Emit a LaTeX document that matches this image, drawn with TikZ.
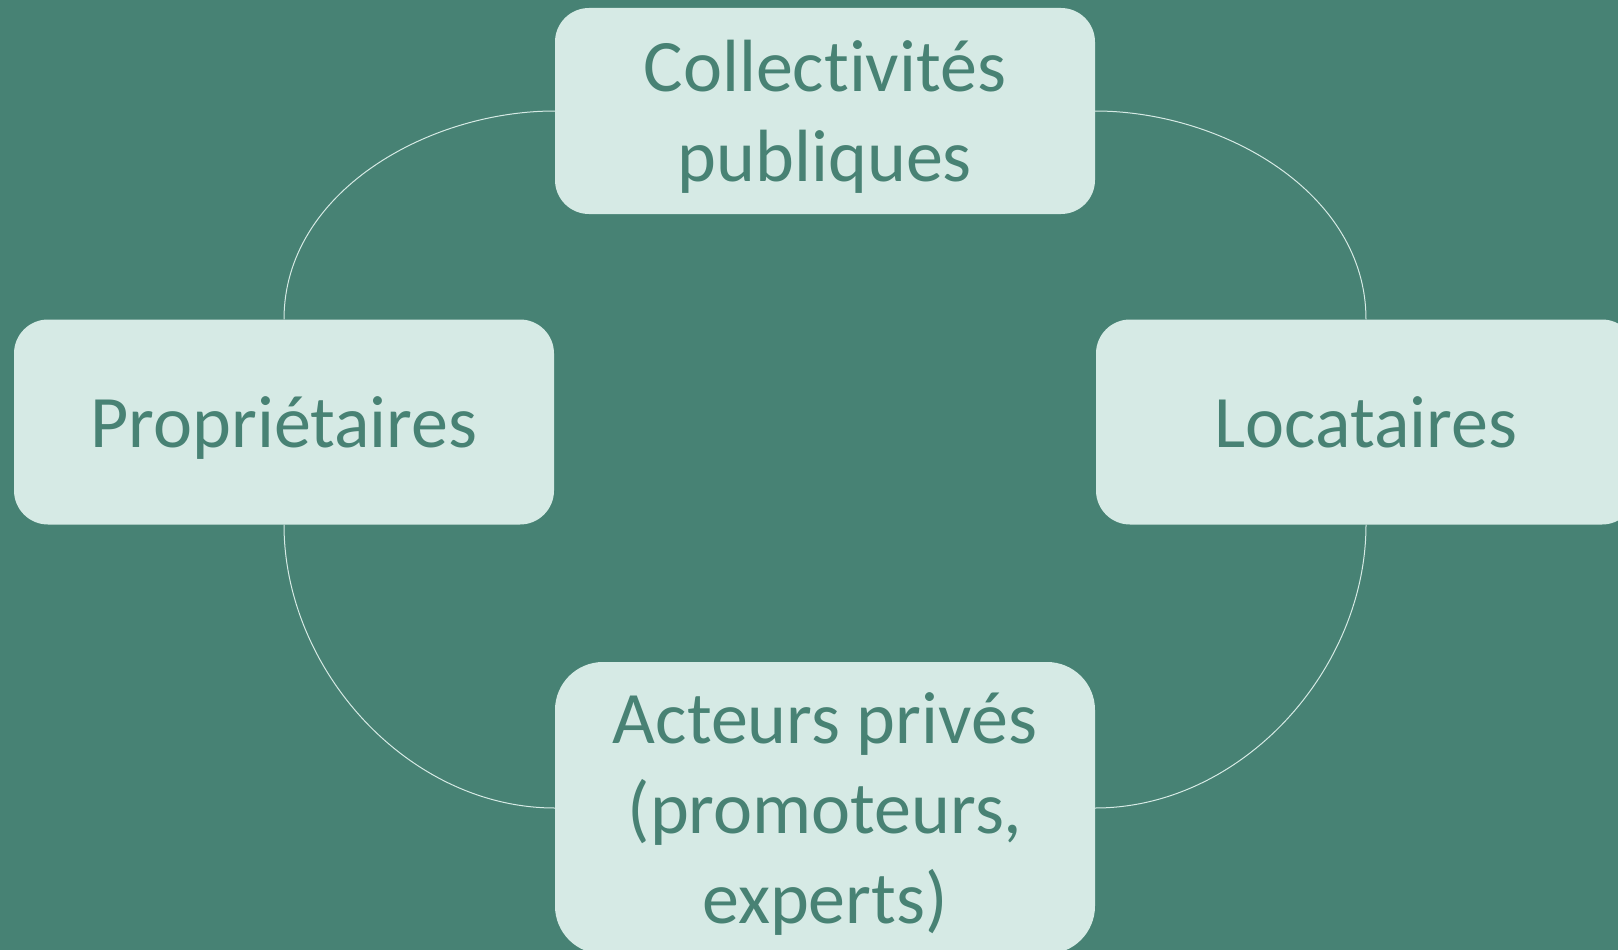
\documentclass[tikz,border=0pt]{standalone}
\usepackage{fontspec}
\setmainfont{Carlito}[Ligatures=NoCommon]
\usepackage{tikz}
\usetikzlibrary{positioning}

\definecolor{bgteal}{RGB}{71,130,116}
\definecolor{boxfill}{RGB}{214,234,229}
\definecolor{boxtext}{RGB}{72,130,116}

\begin{document}
\begin{tikzpicture}
	[   x=1pt,y=-1pt,
		bnode/.style={fill=boxfill,text=boxtext,rounded corners=#1,minimum width=540pt,align=center,inner sep=0pt,text depth=0pt,font=\fontsize{74}{90}\selectfont},
	]
	\tikzset{normal line/.style={draw=boxfill,line width=1pt,looseness=0.95}}
	\fill[bgteal] (0,0) rectangle (1618,950);
	\useasboundingbox (0,0) rectangle (1618,950);

	\node[bnode=34pt,minimum height=206pt] (coll) at (825,111) {Collectivités\\publiques};
	\node[bnode=34pt,minimum height=205pt] (prop) at (284,422) {Propriétaires};
	\node[bnode=34pt,minimum height=205pt] (loc) at (1366,422) {Locataires};
	\node[bnode=48pt,minimum height=292pt] (acteurs) at (825,808) {Acteurs privés\\(promoteurs,\\experts)};

	\path[normal line] (coll.west) to[out=180,in=90] (prop.north);
	\path[normal line] (prop.south) to[out=-90,in=180] (acteurs.west);
	\path[normal line] (acteurs.east) to[out=0,in=-90] (loc.south);
	\path[normal line] (loc.north) to[out=90,in=0] (coll.east);
\end{tikzpicture}
\end{document}
